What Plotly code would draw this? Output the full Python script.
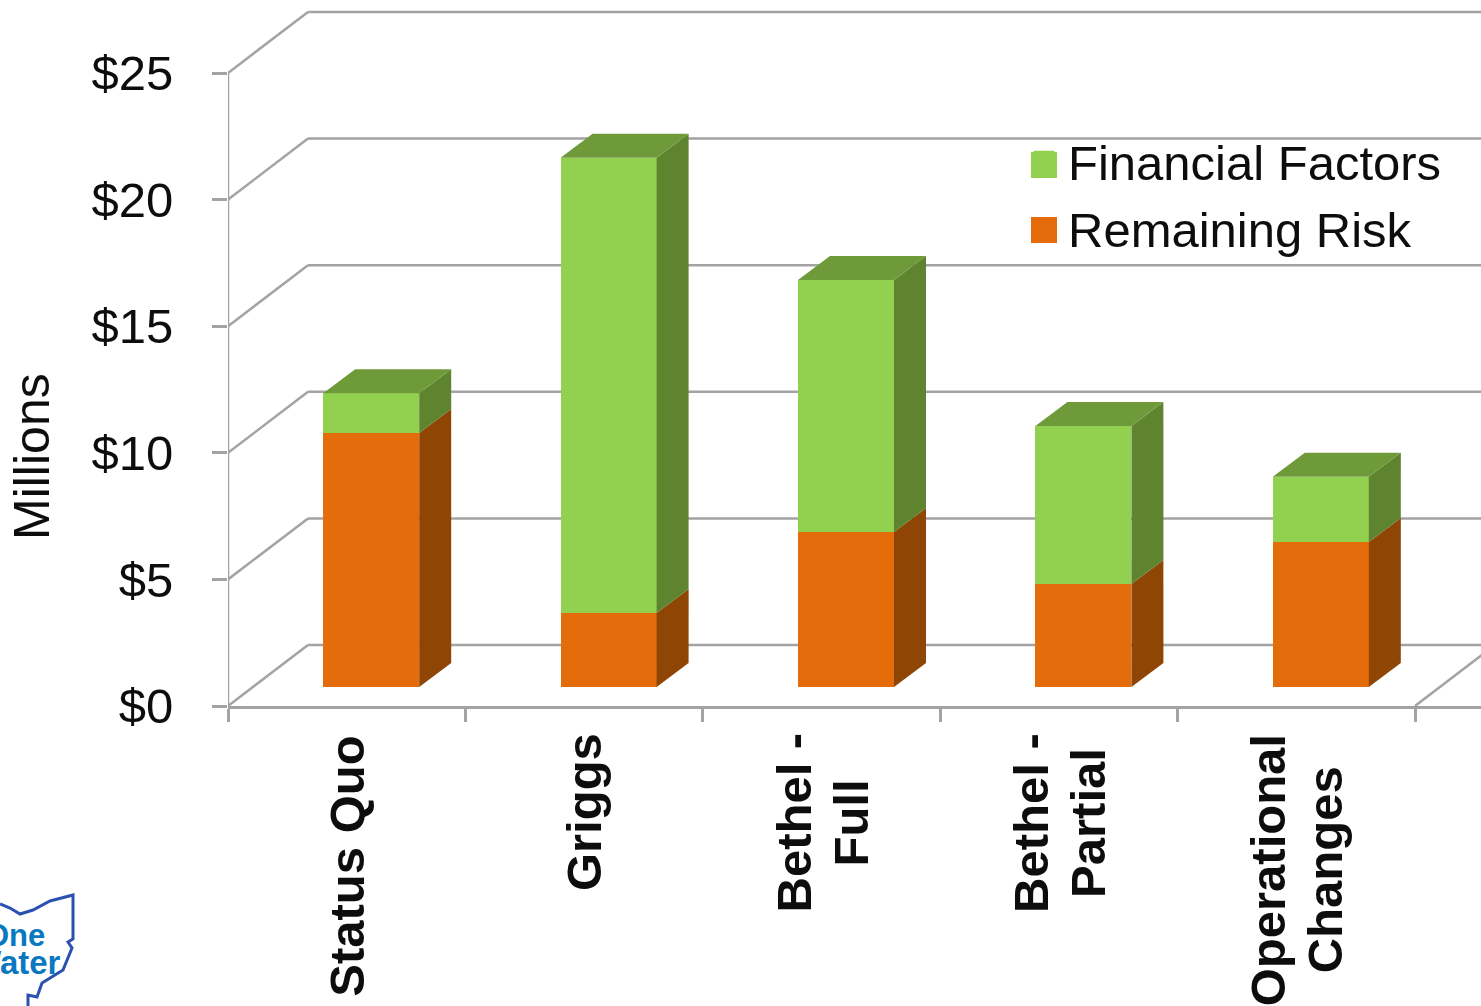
import plotly.graph_objects as go

categories = ["Status Quo", "Griggs", "Bethel -<br>Full", "Bethel -<br>Partial", "Operational<br>Changes"]
remaining_risk = [10.03, 2.92, 6.12, 4.07, 5.73]
financial_factors = [1.57, 17.98, 9.95, 6.24, 2.57]
y_ticks = [0, 5, 10, 15, 20, 25]
y_tick_labels = ["$0", "$5", "$10", "$15", "$20", "$25"]

W, H = 1481, 1006
L, B = 228, 300          # plot-area margins
X_SCALE = 237.4           # px per category
Y_SCALE = 25.32           # px per $M
to_dx = lambda px: px / X_SCALE
to_dy = lambda px: px / Y_SCALE

WALL_DX, WALL_DY = to_dx(80), to_dy(61)
BAR_DX, BAR_DY = to_dx(32), to_dy(24)
BAR_W = to_dx(96)
BAR_SHIFT = to_dx(24.5)
BAR_BASE = to_dy(19)

GRID = "#a3a3a3"
ORANGE, ORANGE_SIDE = "#e46c0a", "#8f4504"
GREEN, GREEN_SIDE, GREEN_TOP = "#92d050", "#5f8430", "#6f9a3a"
FONT = "Liberation Sans, Arial, sans-serif"
TEXT = "#0d0d0d"

x_right = -0.5 + (W - L) / X_SCALE
n = len(categories)
centers = list(range(n))
bar_x = [c + BAR_SHIFT for c in centers]
orange_top = [BAR_BASE + v for v in remaining_risk]
green_top = [t + v for t, v in zip(orange_top, financial_factors)]

fig = go.Figure()

# wall and floor lines, under the marks
shapes = []
line = dict(color=GRID, width=2.5)
for v in y_ticks:
    shapes.append(dict(type="line", xref="x", yref="y", x0=-0.5, y0=v, x1=-0.5 + WALL_DX, y1=v + WALL_DY, line=line, layer="below"))
    shapes.append(dict(type="line", xref="x", yref="y", x0=-0.5 + WALL_DX, y0=v + WALL_DY, x1=x_right, y1=v + WALL_DY, line=line, layer="below"))
shapes.append(dict(type="line", xref="x", yref="y", x0=n - 0.5, y0=0, x1=n - 0.5 + WALL_DX, y1=WALL_DY, line=line, layer="below"))
shapes.append(dict(type="line", xref="x", yref="y", x0=-0.5, x1=-0.5, y0=0, y1=25, line=line, layer="below"))

def pxx(p): return (p - L) / (W - L)
def pxy(p): return (H - B - p) / (H - B)

# logo outline
logo = [(0, 904), (10, 908), (20, 914), (33, 910), (50, 901), (73, 895), (73, 939), (68, 942),
        (72, 948), (63, 970), (42, 983), (37, 997), (28, 995), (28, 1006)]
path = "M " + " L ".join(f"{pxx(a):.5f},{pxy(b):.5f}" for a, b in logo)
shapes.append(dict(type="path", xref="paper", yref="paper", path=path, line=dict(color="#2a50b0", width=3)))

# legend swatches at full size (legend markers are capped in size by the library)
for color, top in [(GREEN, 152), (ORANGE, 217)]:
    shapes.append(dict(type="rect", xref="paper", yref="paper", x0=pxx(1031), x1=pxx(1057),
                       y0=pxy(top), y1=pxy(top + 26), fillcolor=color, line=dict(width=0)))

# bar sides and tops
def poly(xs, ys, color):
    fig.add_trace(go.Scatter(x=xs, y=ys, mode="lines", fill="toself", fillcolor=color,
                             line=dict(width=0, color=color), showlegend=False, hoverinfo="skip"))

for i in range(n):
    xr = bar_x[i] + BAR_W / 2
    xl = bar_x[i] - BAR_W / 2
    poly([xr, xr + BAR_DX, xr + BAR_DX, xr, xr],
         [BAR_BASE, BAR_BASE + BAR_DY, orange_top[i] + BAR_DY, orange_top[i], BAR_BASE], ORANGE_SIDE)
    poly([xr, xr + BAR_DX, xr + BAR_DX, xr, xr],
         [orange_top[i], orange_top[i] + BAR_DY, green_top[i] + BAR_DY, green_top[i], orange_top[i]], GREEN_SIDE)
    poly([xl, xl + BAR_DX, xr + BAR_DX, xr, xl],
         [green_top[i], green_top[i] + BAR_DY, green_top[i] + BAR_DY, green_top[i], green_top[i]], GREEN_TOP)

# front faces
fig.add_trace(go.Bar(x=bar_x, y=remaining_risk, base=[BAR_BASE] * n, width=BAR_W,
                     marker=dict(color=ORANGE, line=dict(width=0)), showlegend=False, name="Remaining Risk"))
fig.add_trace(go.Bar(x=bar_x, y=financial_factors, base=orange_top, width=BAR_W,
                     marker=dict(color=GREEN, line=dict(width=0)), showlegend=False, name="Financial Factors"))

# legend entries
for name, color in [("Financial Factors", GREEN), ("Remaining Risk", ORANGE)]:
    fig.add_trace(go.Scatter(x=[None], y=[None], mode="markers", name=name,
                             marker=dict(symbol="square", size=16, color=color, line=dict(width=5, color=color))))

annotations = [
    dict(text="Millions", xref="paper", yref="paper", x=pxx(32), y=pxy(457), textangle=-90,
         showarrow=False, xanchor="center", yanchor="middle", font=dict(size=50, color=TEXT, family=FONT)),
    dict(text="<b>One</b>", xref="paper", yref="paper", x=pxx(47), y=pxy(935), showarrow=False,
         xanchor="right", yanchor="middle", font=dict(size=31, color="#0a78c0", family=FONT)),
    dict(text="<b>Water</b>", xref="paper", yref="paper", x=pxx(63), y=pxy(962), showarrow=False,
         xanchor="right", yanchor="middle", font=dict(size=33, color="#0a78c0", family=FONT)),
]
label_mid = [866, 812, 823, 823, 870]
for c, label, mid in zip(centers, categories, label_mid):
    parts = label.split("<br>")
    shifts = [0] if len(parts) == 1 else [-28, 29]
    for part, shift in zip(parts, shifts):
        annotations.append(dict(text=f"<b>{part}</b>", xref="x", yref="paper", x=c, y=pxy(mid), xshift=shift,
                                textangle=-90, showarrow=False, xanchor="center", yanchor="middle",
                                font=dict(size=49, color=TEXT, family=FONT)))

fig.update_layout(
    width=W, height=H, margin=dict(l=L, r=0, t=0, b=B, pad=0),
    paper_bgcolor="white", plot_bgcolor="white",
    barmode="overlay", bargap=0,
    font=dict(family=FONT, color=TEXT, size=49),
    shapes=shapes, annotations=annotations,
    legend=dict(x=pxx(1020), y=pxy(123), xanchor="left", yanchor="top", bgcolor="rgba(0,0,0,0)",
                font=dict(size=49), itemsizing="trace", itemwidth=38, traceorder="normal"),
    xaxis=dict(range=[-0.5, x_right], showgrid=False, zeroline=False, showline=True, linecolor=GRID, linewidth=2.5,
               tickvals=[i - 0.5 for i in range(n + 1)], ticktext=[""] * (n + 1),
               ticks="outside", ticklen=13, tickwidth=2.5, tickcolor=GRID, fixedrange=True),
    yaxis=dict(range=[0, (H - B) / Y_SCALE], showgrid=False, zeroline=False, showline=False,
               tickvals=y_ticks, ticktext=y_tick_labels, ticks="outside", ticklen=15, tickwidth=2.5,
               ticklabelstandoff=29, tickcolor=GRID, tickfont=dict(size=49, color=TEXT), fixedrange=True),
)

fig.write_html("out.html", config=dict(displayModeBar=False),
               post_script="document.body.style.margin='0';")
